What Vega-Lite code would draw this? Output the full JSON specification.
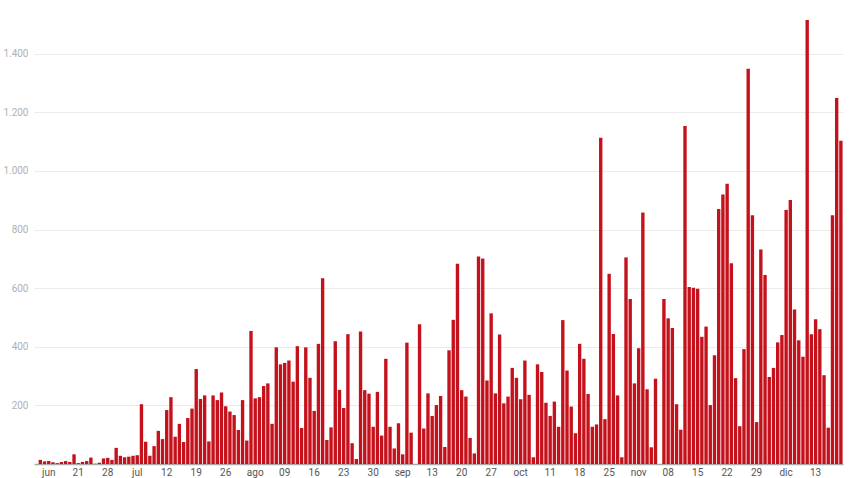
{
  "$schema": "https://vega.github.io/schema/vega-lite/v6.json",
  "width": 809,
  "height": 444,
  "autosize": {"type": "none"},
  "padding": {"left": 34, "top": 20, "right": 7, "bottom": 14},
  "background": "#ffffff",
  "config": {
    "view": {"stroke": null},
    "font": "Roboto"
  },
  "data": {
    "values": [
      {"fecha": "2020-06-11", "casos": 0},
      {"fecha": "2020-06-12", "casos": 14},
      {"fecha": "2020-06-13", "casos": 9},
      {"fecha": "2020-06-14", "casos": 10},
      {"fecha": "2020-06-15", "casos": 6},
      {"fecha": "2020-06-16", "casos": 3},
      {"fecha": "2020-06-17", "casos": 7},
      {"fecha": "2020-06-18", "casos": 10},
      {"fecha": "2020-06-19", "casos": 7},
      {"fecha": "2020-06-20", "casos": 33},
      {"fecha": "2020-06-21", "casos": 3},
      {"fecha": "2020-06-22", "casos": 7},
      {"fecha": "2020-06-23", "casos": 10},
      {"fecha": "2020-06-24", "casos": 22},
      {"fecha": "2020-06-25", "casos": 1},
      {"fecha": "2020-06-26", "casos": 4},
      {"fecha": "2020-06-27", "casos": 19},
      {"fecha": "2020-06-28", "casos": 21},
      {"fecha": "2020-06-29", "casos": 14},
      {"fecha": "2020-06-30", "casos": 55},
      {"fecha": "2020-07-01", "casos": 28},
      {"fecha": "2020-07-02", "casos": 23},
      {"fecha": "2020-07-03", "casos": 25},
      {"fecha": "2020-07-04", "casos": 28},
      {"fecha": "2020-07-05", "casos": 30},
      {"fecha": "2020-07-06", "casos": 204},
      {"fecha": "2020-07-07", "casos": 76},
      {"fecha": "2020-07-08", "casos": 28},
      {"fecha": "2020-07-09", "casos": 61},
      {"fecha": "2020-07-10", "casos": 113},
      {"fecha": "2020-07-11", "casos": 85},
      {"fecha": "2020-07-12", "casos": 184},
      {"fecha": "2020-07-13", "casos": 228},
      {"fecha": "2020-07-14", "casos": 93},
      {"fecha": "2020-07-15", "casos": 137},
      {"fecha": "2020-07-16", "casos": 75},
      {"fecha": "2020-07-17", "casos": 157},
      {"fecha": "2020-07-18", "casos": 189},
      {"fecha": "2020-07-19", "casos": 324},
      {"fecha": "2020-07-20", "casos": 222},
      {"fecha": "2020-07-21", "casos": 234},
      {"fecha": "2020-07-22", "casos": 77},
      {"fecha": "2020-07-23", "casos": 234},
      {"fecha": "2020-07-24", "casos": 218},
      {"fecha": "2020-07-25", "casos": 244},
      {"fecha": "2020-07-26", "casos": 197},
      {"fecha": "2020-07-27", "casos": 179},
      {"fecha": "2020-07-28", "casos": 167},
      {"fecha": "2020-07-29", "casos": 116},
      {"fecha": "2020-07-30", "casos": 218},
      {"fecha": "2020-07-31", "casos": 80},
      {"fecha": "2020-08-01", "casos": 454},
      {"fecha": "2020-08-02", "casos": 224},
      {"fecha": "2020-08-03", "casos": 228},
      {"fecha": "2020-08-04", "casos": 266},
      {"fecha": "2020-08-05", "casos": 275},
      {"fecha": "2020-08-06", "casos": 137},
      {"fecha": "2020-08-07", "casos": 398},
      {"fecha": "2020-08-08", "casos": 340},
      {"fecha": "2020-08-09", "casos": 345},
      {"fecha": "2020-08-10", "casos": 353},
      {"fecha": "2020-08-11", "casos": 281},
      {"fecha": "2020-08-12", "casos": 402},
      {"fecha": "2020-08-13", "casos": 123},
      {"fecha": "2020-08-14", "casos": 398},
      {"fecha": "2020-08-15", "casos": 294},
      {"fecha": "2020-08-16", "casos": 181},
      {"fecha": "2020-08-17", "casos": 410},
      {"fecha": "2020-08-18", "casos": 634},
      {"fecha": "2020-08-19", "casos": 82},
      {"fecha": "2020-08-20", "casos": 125},
      {"fecha": "2020-08-21", "casos": 419},
      {"fecha": "2020-08-22", "casos": 253},
      {"fecha": "2020-08-23", "casos": 191},
      {"fecha": "2020-08-24", "casos": 443},
      {"fecha": "2020-08-25", "casos": 71},
      {"fecha": "2020-08-26", "casos": 17},
      {"fecha": "2020-08-27", "casos": 452},
      {"fecha": "2020-08-28", "casos": 252},
      {"fecha": "2020-08-29", "casos": 240},
      {"fecha": "2020-08-30", "casos": 127},
      {"fecha": "2020-08-31", "casos": 246},
      {"fecha": "2020-09-01", "casos": 97},
      {"fecha": "2020-09-02", "casos": 359},
      {"fecha": "2020-09-03", "casos": 127},
      {"fecha": "2020-09-04", "casos": 53},
      {"fecha": "2020-09-05", "casos": 139},
      {"fecha": "2020-09-06", "casos": 33},
      {"fecha": "2020-09-07", "casos": 414},
      {"fecha": "2020-09-08", "casos": 107},
      {"fecha": "2020-09-09", "casos": 0},
      {"fecha": "2020-09-10", "casos": 477},
      {"fecha": "2020-09-11", "casos": 121},
      {"fecha": "2020-09-12", "casos": 241},
      {"fecha": "2020-09-13", "casos": 164},
      {"fecha": "2020-09-14", "casos": 201},
      {"fecha": "2020-09-15", "casos": 232},
      {"fecha": "2020-09-16", "casos": 58},
      {"fecha": "2020-09-17", "casos": 388},
      {"fecha": "2020-09-18", "casos": 492},
      {"fecha": "2020-09-19", "casos": 683},
      {"fecha": "2020-09-20", "casos": 252},
      {"fecha": "2020-09-21", "casos": 230},
      {"fecha": "2020-09-22", "casos": 89},
      {"fecha": "2020-09-23", "casos": 36},
      {"fecha": "2020-09-24", "casos": 708},
      {"fecha": "2020-09-25", "casos": 701},
      {"fecha": "2020-09-26", "casos": 285},
      {"fecha": "2020-09-27", "casos": 514},
      {"fecha": "2020-09-28", "casos": 241},
      {"fecha": "2020-09-29", "casos": 442},
      {"fecha": "2020-09-30", "casos": 207},
      {"fecha": "2020-10-01", "casos": 230},
      {"fecha": "2020-10-02", "casos": 328},
      {"fecha": "2020-10-03", "casos": 294},
      {"fecha": "2020-10-04", "casos": 221},
      {"fecha": "2020-10-05", "casos": 353},
      {"fecha": "2020-10-06", "casos": 236},
      {"fecha": "2020-10-07", "casos": 23},
      {"fecha": "2020-10-08", "casos": 340},
      {"fecha": "2020-10-09", "casos": 314},
      {"fecha": "2020-10-10", "casos": 209},
      {"fecha": "2020-10-11", "casos": 164},
      {"fecha": "2020-10-12", "casos": 213},
      {"fecha": "2020-10-13", "casos": 127},
      {"fecha": "2020-10-14", "casos": 491},
      {"fecha": "2020-10-15", "casos": 319},
      {"fecha": "2020-10-16", "casos": 196},
      {"fecha": "2020-10-17", "casos": 105},
      {"fecha": "2020-10-18", "casos": 410},
      {"fecha": "2020-10-19", "casos": 359},
      {"fecha": "2020-10-20", "casos": 239},
      {"fecha": "2020-10-21", "casos": 127},
      {"fecha": "2020-10-22", "casos": 135},
      {"fecha": "2020-10-23", "casos": 1113},
      {"fecha": "2020-10-24", "casos": 153},
      {"fecha": "2020-10-25", "casos": 649},
      {"fecha": "2020-10-26", "casos": 444},
      {"fecha": "2020-10-27", "casos": 234},
      {"fecha": "2020-10-28", "casos": 23},
      {"fecha": "2020-10-29", "casos": 705},
      {"fecha": "2020-10-30", "casos": 563},
      {"fecha": "2020-10-31", "casos": 275},
      {"fecha": "2020-11-01", "casos": 395},
      {"fecha": "2020-11-02", "casos": 858},
      {"fecha": "2020-11-03", "casos": 255},
      {"fecha": "2020-11-04", "casos": 57},
      {"fecha": "2020-11-05", "casos": 291},
      {"fecha": "2020-11-06", "casos": 0},
      {"fecha": "2020-11-07", "casos": 563},
      {"fecha": "2020-11-08", "casos": 497},
      {"fecha": "2020-11-09", "casos": 464},
      {"fecha": "2020-11-10", "casos": 204},
      {"fecha": "2020-11-11", "casos": 117},
      {"fecha": "2020-11-12", "casos": 1153},
      {"fecha": "2020-11-13", "casos": 604},
      {"fecha": "2020-11-14", "casos": 601},
      {"fecha": "2020-11-15", "casos": 598},
      {"fecha": "2020-11-16", "casos": 434},
      {"fecha": "2020-11-17", "casos": 469},
      {"fecha": "2020-11-18", "casos": 201},
      {"fecha": "2020-11-19", "casos": 371},
      {"fecha": "2020-11-20", "casos": 870},
      {"fecha": "2020-11-21", "casos": 920},
      {"fecha": "2020-11-22", "casos": 956},
      {"fecha": "2020-11-23", "casos": 685},
      {"fecha": "2020-11-24", "casos": 293},
      {"fecha": "2020-11-25", "casos": 129},
      {"fecha": "2020-11-26", "casos": 392},
      {"fecha": "2020-11-27", "casos": 1349},
      {"fecha": "2020-11-28", "casos": 849},
      {"fecha": "2020-11-29", "casos": 143},
      {"fecha": "2020-11-30", "casos": 732},
      {"fecha": "2020-12-01", "casos": 645},
      {"fecha": "2020-12-02", "casos": 297},
      {"fecha": "2020-12-03", "casos": 328},
      {"fecha": "2020-12-04", "casos": 415},
      {"fecha": "2020-12-05", "casos": 440},
      {"fecha": "2020-12-06", "casos": 867},
      {"fecha": "2020-12-07", "casos": 901},
      {"fecha": "2020-12-08", "casos": 527},
      {"fecha": "2020-12-09", "casos": 422},
      {"fecha": "2020-12-10", "casos": 366},
      {"fecha": "2020-12-11", "casos": 1515},
      {"fecha": "2020-12-12", "casos": 443},
      {"fecha": "2020-12-13", "casos": 494},
      {"fecha": "2020-12-14", "casos": 460},
      {"fecha": "2020-12-15", "casos": 303},
      {"fecha": "2020-12-16", "casos": 124},
      {"fecha": "2020-12-17", "casos": 849},
      {"fecha": "2020-12-18", "casos": 1249},
      {"fecha": "2020-12-19", "casos": 1103}
    ]
  },
  "mark": {"type": "bar", "color": "#c4111b"},
  "encoding": {
    "x": {
      "field": "fecha",
      "type": "ordinal",
      "sort": null,
      "scale": {"paddingInner": 0.2, "paddingOuter": 0.1},
      "axis": {
        "title": null,
        "values": ["2020-06-14", "2020-06-21", "2020-06-28", "2020-07-05", "2020-07-12", "2020-07-19", "2020-07-26", "2020-08-02", "2020-08-09", "2020-08-16", "2020-08-23", "2020-08-30", "2020-09-06", "2020-09-13", "2020-09-20", "2020-09-27", "2020-10-04", "2020-10-11", "2020-10-18", "2020-10-25", "2020-11-01", "2020-11-08", "2020-11-15", "2020-11-22", "2020-11-29", "2020-12-06", "2020-12-13"],
        "labelExpr": "(utcdate(toDate(datum.value)) <= 7 || datum.value == '2020-06-14') ? ['ene','feb','mar','abr','may','jun','jul','ago','sep','oct','nov','dic'][utcmonth(toDate(datum.value))] : (utcdate(toDate(datum.value)) < 10 ? '0' : '') + utcdate(toDate(datum.value))",
        "labelAngle": 0,
        "ticks": false,
        "domainColor": "#aaaaaa",
        "domainWidth": 1.5,
        "labelColor": "#555555",
        "labelFontSize": 10,
        "labelPadding": 3,
        "labelFont": "Roboto"
      }
    },
    "y": {
      "field": "casos",
      "type": "quantitative",
      "scale": {"domain": [0, 1515], "nice": false, "zero": true},
      "axis": {
        "title": null,
        "values": [200, 400, 600, 800, 1000, 1200, 1400],
        "labelExpr": "replace(format(datum.value, ','), ',', '.')",
        "domain": false,
        "ticks": false,
        "gridColor": "#ebebeb",
        "labelColor": "#b0b0b0",
        "labelFontSize": 10,
        "labelPadding": 6,
        "labelFont": "Roboto"
      }
    }
  }
}
